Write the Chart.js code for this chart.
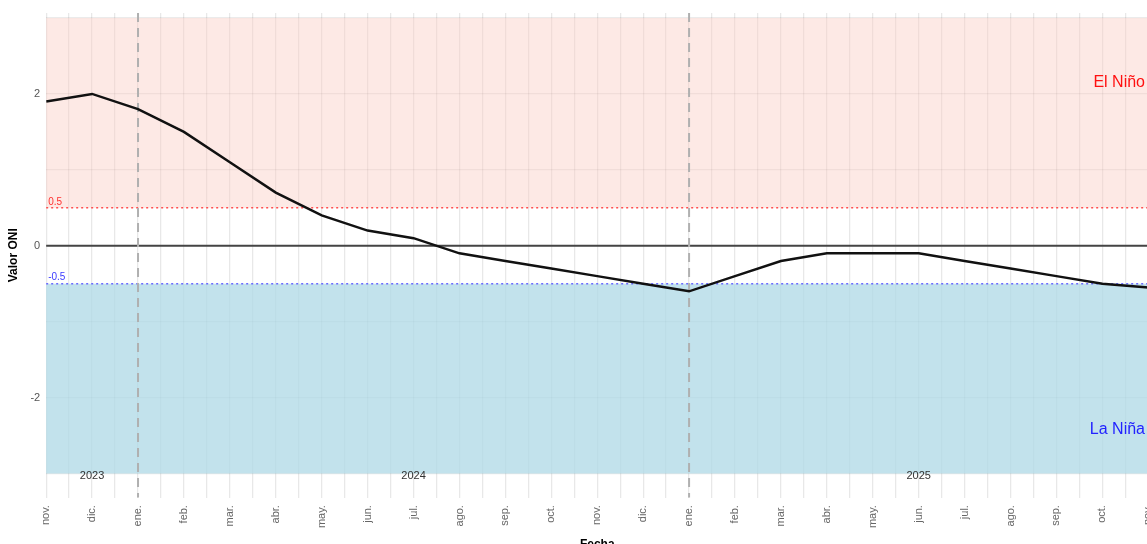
<!DOCTYPE html>
<html>
<head>
<meta charset="utf-8">
<script src="https://cdn.jsdelivr.net/npm/chart.js@4/dist/chart.umd.min.js"></script>
<style>
  html, body { margin: 0; padding: 0; background: #fff; overflow: hidden; }
  #wrap { width: 1169px; height: 552px; }
</style>
</head>
<body>
<div id="wrap"><canvas id="oniChart"></canvas></div>
<script>
// Monthly ONI values, nov 2023 -> nov 2025
const monthLabels = ['nov.', 'dic.', 'ene.', 'feb.', 'mar.', 'abr.', 'may.', 'jun.', 'jul.', 'ago.', 'sep.', 'oct.',
  'nov.', 'dic.', 'ene.', 'feb.', 'mar.', 'abr.', 'may.', 'jun.', 'jul.', 'ago.', 'sep.', 'oct.', 'nov.'];
const oniValues = [1.9, 2.0, 1.8, 1.5, 1.1, 0.7, 0.4, 0.2, 0.1, -0.1, -0.2, -0.3,
  -0.4, -0.5, -0.6, -0.4, -0.2, -0.1, -0.1, -0.1, -0.2, -0.3, -0.4, -0.5, -0.55];

const yearLabels = ['2023', '2024', '2025'];
const yearLabelIdx = [1, 8, 19];
const yearStartIdx = [2, 14];

const elNinoLimit = 0.5;
const laNinaLimit = -0.5;
const yTickLabels = [-2, 0, 2];

const points = oniValues.map((v, i) => ({ x: i, y: v }));

const FONT = '"Liberation Sans", Arial, sans-serif';

// shaded bands, reference lines and text
const decorations = {
  id: 'decorations',
  beforeDatasetsDraw(chart) {
    const { ctx, chartArea: a, scales: { x, y } } = chart;
    ctx.save();

    // El Niño band
    ctx.fillStyle = 'rgba(250,200,190,0.4)';
    ctx.fillRect(a.left, y.getPixelForValue(3), a.right - a.left,
      y.getPixelForValue(elNinoLimit) - y.getPixelForValue(3));
    // La Niña band
    ctx.fillStyle = 'rgba(173,216,230,0.75)';
    ctx.fillRect(a.left, y.getPixelForValue(laNinaLimit), a.right - a.left,
      y.getPixelForValue(-3) - y.getPixelForValue(laNinaLimit));

    // zero line
    ctx.strokeStyle = '#444';
    ctx.lineWidth = 2;
    ctx.beginPath();
    ctx.moveTo(a.left, y.getPixelForValue(0));
    ctx.lineTo(a.right, y.getPixelForValue(0));
    ctx.stroke();

    // threshold lines
    ctx.lineWidth = 1.5;
    ctx.setLineDash([2, 3]);
    ctx.strokeStyle = '#ff5050';
    ctx.beginPath();
    ctx.moveTo(a.left, y.getPixelForValue(elNinoLimit));
    ctx.lineTo(a.right, y.getPixelForValue(elNinoLimit));
    ctx.stroke();
    ctx.strokeStyle = '#6a6aff';
    ctx.beginPath();
    ctx.moveTo(a.left, y.getPixelForValue(laNinaLimit));
    ctx.lineTo(a.right, y.getPixelForValue(laNinaLimit));
    ctx.stroke();

    // year boundaries
    ctx.strokeStyle = '#b0b0b0';
    ctx.lineWidth = 2;
    ctx.setLineDash([9, 6]);
    yearStartIdx.forEach(i => {
      const px = x.getPixelForValue(i);
      ctx.beginPath();
      ctx.moveTo(px, a.top);
      ctx.lineTo(px, a.bottom);
      ctx.stroke();
    });
    ctx.restore();
  },
  afterDatasetsDraw(chart) {
    const { ctx, chartArea: a, scales: { x, y } } = chart;
    ctx.save();
    ctx.textBaseline = 'bottom';
    ctx.textAlign = 'left';
    ctx.font = '10px ' + FONT;
    ctx.fillStyle = '#ff3030';
    ctx.fillText('0.5', a.left + 2, y.getPixelForValue(elNinoLimit) - 1);
    ctx.fillStyle = '#3a3aff';
    ctx.fillText('-0.5', a.left + 2, y.getPixelForValue(laNinaLimit) - 1);

    ctx.textBaseline = 'middle';
    ctx.textAlign = 'right';
    ctx.font = '16px ' + FONT;
    ctx.fillStyle = '#ff1010';
    ctx.fillText('El Niño', 1145, y.getPixelForValue(2.15));
    ctx.fillStyle = '#2222ff';
    ctx.fillText('La Niña', 1145, y.getPixelForValue(-2.42));

    ctx.textAlign = 'center';
    ctx.font = '11px ' + FONT;
    ctx.fillStyle = '#333';
    yearLabels.forEach((t, k) => {
      ctx.fillText(t, x.getPixelForValue(yearLabelIdx[k]), y.getPixelForValue(-3.03));
    });
    ctx.restore();
  }
};

new Chart(document.getElementById('oniChart'), {
  type: 'line',
  data: {
    datasets: [{
      data: points,
      borderColor: '#111',
      borderWidth: 2.5,
      pointRadius: 0,
      tension: 0
    }]
  },
  options: {
    responsive: true,
    maintainAspectRatio: false,
    animation: false,
    layout: { padding: { top: 13, right: 8, left: 6, bottom: 0 } },
    plugins: { legend: { display: false }, tooltip: { enabled: false } },
    scales: {
      x: {
        type: 'linear',
        min: 0,
        max: 24,
        afterBuildTicks: s => {
          const t = [];
          for (let i = 0; i <= 48; i++) t.push({ value: i / 2 });
          s.ticks = t;
        },
        border: { display: false },
        grid: { color: 'rgba(0,0,0,0.09)', lineWidth: 1.3, drawTicks: false },
        ticks: {
          autoSkip: false,
          minRotation: 90,
          maxRotation: 90,
          padding: 7.5,
          color: '#666',
          font: { family: FONT, size: 11 },
          callback: v => Number.isInteger(v) ? monthLabels[v] : ''
        },
        title: {
          display: true,
          text: 'Fecha',
          color: '#000',
          padding: { top: 2, bottom: 0 },
          font: { family: FONT, size: 12, weight: 'bold' }
        }
      },
      y: {
        min: -3.317,
        max: 3.066,
        afterBuildTicks: s => {
          s.ticks = [-3, -2, -1, 0, 1, 2, 3].map(v => ({ value: v }));
        },
        border: { display: false },
        grid: { color: 'rgba(0,0,0,0.08)', lineWidth: 1.3, drawTicks: false },
        ticks: {
          padding: 6,
          color: '#555',
          font: { family: FONT, size: 11 },
          callback: v => yTickLabels.includes(v) ? String(v) : ''
        },
        title: {
          display: true,
          text: 'Valor ONI',
          color: '#000',
          padding: { top: 0, bottom: 4 },
          font: { family: FONT, size: 12, weight: 'bold' }
        }
      }
    }
  },
  plugins: [decorations]
});
</script>
</body>
</html>
